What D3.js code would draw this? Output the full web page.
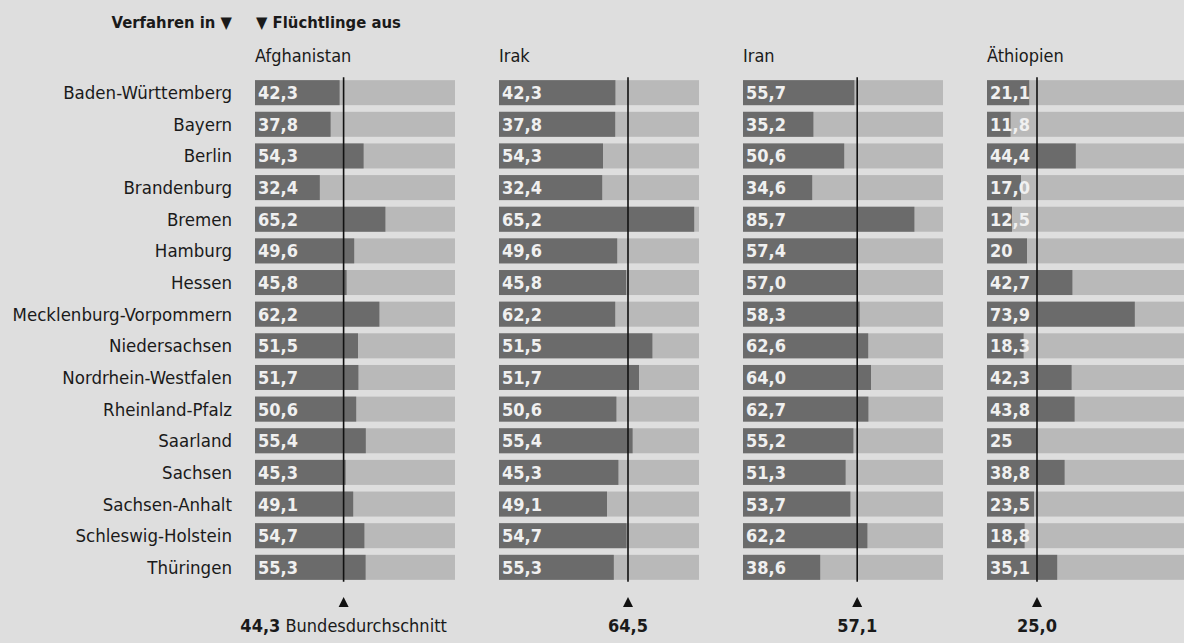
<!DOCTYPE html>
<html>
<head>
  <meta charset="UTF-8">
  <title></title>
  <style>
    body{
      margin: 0;
      background: #dedede;
    }
    svg text{
      font-family: 'DejaVu Sans Condensed', 'Liberation Sans Narrow', sans-serif;
      fill: #1a1a1a;
    }
    .state{
      font-size: 18.5px;
      text-anchor: end;
    }
    .vlabel{
      font-size: 18px;
      font-weight: bold;
      fill: #f0f0f0;
    }
    .title{
      font-size: 18px;
    }
    .header{
      font-size: 16.5px;
      font-weight: bold;
    }
    .avg{
      font-size: 18px;
      text-anchor: middle;
    }
  </style>
</head>
<body>
  <script src="https://d3js.org/d3.v7.min.js"></script>
  <script>
    var states = ["Baden-Württemberg", "Bayern", "Berlin", "Brandenburg", "Bremen", "Hamburg", "Hessen",
                  "Mecklenburg-Vorpommern", "Niedersachsen", "Nordrhein-Westfalen", "Rheinland-Pfalz",
                  "Saarland", "Sachsen", "Sachsen-Anhalt", "Schleswig-Holstein", "Thüringen"];

    var countries = ["Afghanistan", "Irak", "Iran", "Äthiopien"];

    // printed labels
    var afghanistan = [42.3, 37.8, 54.3, 32.4, 65.2, 49.6, 45.8, 62.2, 51.5, 51.7, 50.6, 55.4, 45.3, 49.1, 54.7, 55.3];
    var irakLabels  = [42.3, 37.8, 54.3, 32.4, 65.2, 49.6, 45.8, 62.2, 51.5, 51.7, 50.6, 55.4, 45.3, 49.1, 54.7, 55.3];
    var iran        = [55.7, 35.2, 50.6, 34.6, 85.7, 57.4, 57.0, 58.3, 62.6, 64.0, 62.7, 55.2, 51.3, 53.7, 62.2, 38.6];
    var aethiopien  = [21.1, 11.8, 44.4, 17.0, 12.5, 20, 42.7, 73.9, 18.3, 42.3, 43.8, 25, 38.8, 23.5, 18.8, 35.1];
    var aethiopienLabels = ["21,1", "11,8", "44,4", "17,0", "12,5", "20", "42,7", "73,9", "18,3", "42,3",
                            "43,8", "25", "38,8", "23,5", "18,8", "35,1"];

    // irak bars as drawn (the printed labels repeat the afghanistan column)
    var irakBars = [58.2, 58.1, 52.0, 51.6, 97.6, 59.1, 63.6, 58.1, 76.7, 70.0, 58.7, 66.8, 59.7, 54.0, 63.8, 57.4];

    var averages = [44.3, 64.5, 57.1, 25.0];
    var avgLabels = ["44,3", "64,5", "57,1", "25,0"];

    var fmt = function(v) { return v.toFixed(1).replace(".", ","); };

    var panels = [
      {bars: afghanistan, labels: afghanistan.map(fmt)},
      {bars: irakBars, labels: irakLabels.map(fmt)},
      {bars: iran, labels: iran.map(fmt)},
      {bars: aethiopien, labels: aethiopienLabels}
    ];

    var width = 1184, height = 643;
    var panelX = 255, panelStep = 244, panelW = 200;

    var svg = d3.select("body").append("svg")
        .attr("width", width)
        .attr("height", height);

    var y = d3.scaleBand()
        .domain(states)
        .range([77, 583])
        .paddingInner(0.21)
        .paddingOuter(0.1);

    var x = d3.scaleLinear().domain([0, 100]).range([0, panelW]);

    // header
    svg.append("text").attr("class", "header")
        .attr("x", 232).attr("y", 28)
        .attr("text-anchor", "end")
        .text("Verfahren in ▼");
    svg.append("text").attr("class", "header")
        .attr("x", 256).attr("y", 28)
        .text("▼ Flüchtlinge aus");

    svg.append("g").selectAll("text")
        .data(states)
        .enter().append("text")
          .attr("class", "state")
          .attr("x", 232)
          .attr("y", function(d) { return y(d) + y.bandwidth()/2 + 6.5; })
          .text(function(d) { return d; });

    panels.forEach(function(p, i) {
      var g = svg.append("g")
          .attr("transform", "translate(" + (panelX + i*panelStep) + ",0)");

      g.append("text").attr("class", "title")
          .attr("x", 0).attr("y", 62)
          .text(countries[i]);

      g.selectAll("rect.bg")
          .data(states)
          .enter().append("rect")
            .attr("class", "bg")
            .attr("x", 0)
            .attr("y", function(d) { return y(d); })
            .attr("width", x(100))
            .attr("height", y.bandwidth())
            .attr("fill", "#b9b9b9");

      g.selectAll("rect.bar")
          .data(p.bars)
          .enter().append("rect")
            .attr("class", "bar")
            .attr("x", 0)
            .attr("y", function(d, j) { return y(states[j]); })
            .attr("width", function(d) { return x(d); })
            .attr("height", y.bandwidth())
            .attr("fill", "#6b6b6b");

      g.selectAll("text.vlabel")
          .data(p.labels)
          .enter().append("text")
            .attr("class", "vlabel")
            .attr("x", 3)
            .attr("y", function(d, j) { return y(states[j]) + y.bandwidth()/2 + 6.5; })
            .text(function(d) { return d; });

      var ax = x(averages[i]);
      g.append("line")
          .attr("x1", ax).attr("x2", ax)
          .attr("y1", y(states[0]) - 3)
          .attr("y2", y(states[states.length-1]) + y.bandwidth() + 2)
          .attr("stroke", "#111")
          .attr("stroke-width", 1.6);

      g.append("path")
          .attr("d", "M" + (ax-5) + ",607L" + (ax+5) + ",607L" + ax + ",597Z")
          .attr("fill", "#111");

      var t = g.append("text").attr("class", "avg")
          .attr("x", ax).attr("y", 632);
      t.append("tspan").attr("font-weight", "bold").text(avgLabels[i]);
      if (i == 0) t.append("tspan").text(" Bundesdurchschnitt");
    });
  </script>
</body>
</html>
